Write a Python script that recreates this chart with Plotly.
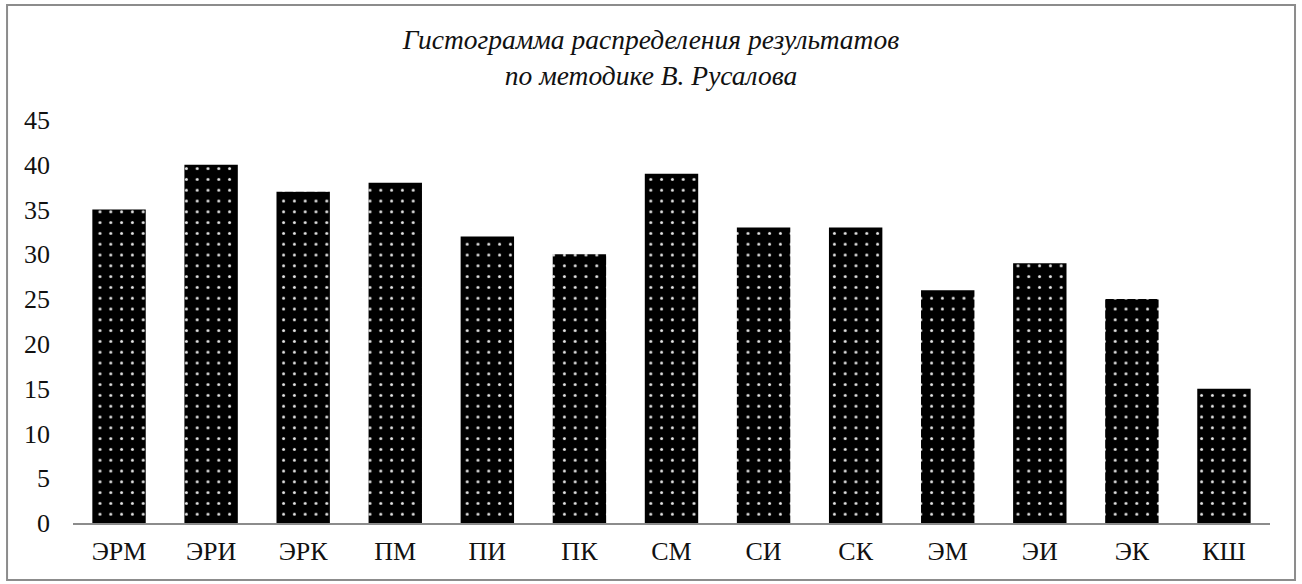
import plotly.graph_objects as go

categories = ["ЭРМ", "ЭРИ", "ЭРК", "ПМ", "ПИ", "ПК", "СМ", "СИ", "СК", "ЭМ", "ЭИ", "ЭК", "КШ"]
values = [35, 40, 37, 38, 32, 30, 39, 33, 33, 26, 29, 25, 15]
y_ticks = [0, 5, 10, 15, 20, 25, 30, 35, 40, 45]

FONT = "Liberation Serif, Times New Roman, serif"
GREY = "#8c8c8c"

fig = go.Figure()
fig.add_trace(go.Bar(
    x=categories, y=values,
    marker=dict(
        color="black",
        line=dict(width=0),
        pattern=dict(shape=".", bgcolor="black", fgcolor="white",
                     fgopacity=0.9, size=10.8, solidity=0.06,
                     fillmode="overlay"),
    ),
    showlegend=False,
))

fig.update_layout(
    width=1302, height=584,
    paper_bgcolor="white", plot_bgcolor="white",
    margin=dict(l=73, r=32, t=120, b=61),
    font=dict(family=FONT, size=26, color="#111"),
    bargap=0.42,
    title=dict(
        text="<i>Гистограмма распределения результатов<br>по методике В. Русалова</i>",
        x=0.5, xanchor="center", y=0.916, yanchor="middle",
        font=dict(family=FONT, size=27.5, color="#111"),
    ),
    xaxis=dict(showline=True, linecolor=GREY, linewidth=1.5,
               showgrid=False, ticks="", ticklabelstandoff=4),
    yaxis=dict(range=[0, 45], tickvals=y_ticks, showgrid=False,
               showline=False, zeroline=False, ticks="",
               ticklabelstandoff=22),
    shapes=[dict(type="rect", xref="paper", yref="paper",
                 x0=-0.0551, x1=1.0209, y0=-0.1414, y1=1.2854,
                 line=dict(color=GREY, width=2))],
)

# drop the default 8px page margin so the figure sits at the window origin
fig.write_html("out.html", config={"displayModeBar": False},
               post_script="document.body.style.margin='0';")
